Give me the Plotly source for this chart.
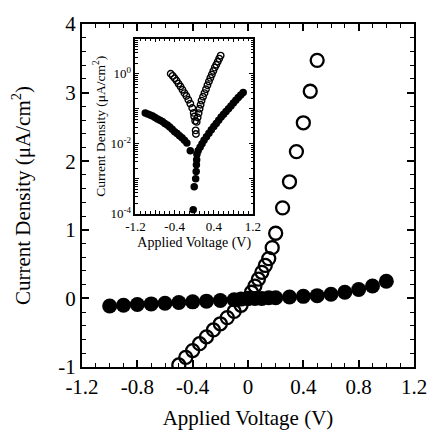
import plotly.graph_objects as go

# ---------------- main plot data (linear) ----------------
main_open_v = [-0.50, -0.45, -0.40, -0.35, -0.30, -0.25, -0.20, -0.15, -0.10, -0.05,
               0.00, 0.025, 0.05, 0.075, 0.10, 0.125, 0.15, 0.175, 0.20,
               0.25, 0.30, 0.35, 0.40, 0.45, 0.50]
main_open_j = [-0.97, -0.86, -0.76, -0.66, -0.56, -0.46, -0.37, -0.28, -0.19, -0.10,
               0.00, 0.09, 0.18, 0.28, 0.38, 0.48, 0.58, 0.74, 0.95,
               1.32, 1.70, 2.14, 2.56, 3.02, 3.47]

main_fill_v = [-1.0, -0.9, -0.8, -0.7, -0.6, -0.5, -0.4, -0.3, -0.2, -0.1,
               -0.05, 0.0, 0.05, 0.1, 0.15, 0.2, 0.3, 0.4, 0.5, 0.6, 0.7, 0.8, 0.9, 1.0]
main_fill_j = [-0.11, -0.10, -0.09, -0.08, -0.07, -0.06, -0.05, -0.04, -0.03, -0.02,
               -0.01, 0.00, 0.00, 0.00, 0.01, 0.01, 0.02, 0.03, 0.04, 0.06, 0.09, 0.13, 0.18, 0.25]

# ---------------- inset data (|J|, log scale) ----------------
inset_open_v = [-0.48, -0.44, -0.40, -0.36, -0.32, -0.28, -0.24, -0.20, -0.16, -0.12,
                -0.08, -0.04, -0.01, 0.00, 0.02, 0.03, 0.035,
                0.05, 0.07, 0.09, 0.11, 0.13, 0.15, 0.18, 0.21, 0.24, 0.27, 0.30,
                0.33, 0.36, 0.39, 0.42, 0.45, 0.48, 0.51, 0.54]
inset_open_j = [1.0, 0.87, 0.74, 0.63, 0.52, 0.43, 0.35, 0.28, 0.23, 0.18,
                0.14, 0.105, 0.076, 0.06, 0.045, 0.024, 0.019,
                0.042, 0.056, 0.075, 0.10, 0.13, 0.17, 0.22, 0.28, 0.36, 0.47, 0.60,
                0.76, 0.95, 1.2, 1.5, 1.8, 2.2, 2.7, 3.3]

inset_fill_v = [-1.00, -0.95, -0.90, -0.85, -0.80, -0.75, -0.70, -0.65, -0.60, -0.55,
                -0.50, -0.45, -0.40, -0.35, -0.30, -0.25, -0.20, -0.15, -0.08,
                -0.02, 0.00, 0.03, 0.04, 0.045, 0.05, 0.055,
                0.08, 0.12, 0.16, 0.20, 0.25, 0.30, 0.35, 0.40, 0.45, 0.50, 0.55,
                0.60, 0.65, 0.70, 0.75, 0.80, 0.85, 0.90, 0.95, 1.00]
inset_fill_j = [0.076, 0.071, 0.066, 0.062, 0.056, 0.051, 0.047, 0.043, 0.038, 0.034,
                0.030, 0.026, 0.022, 0.0195, 0.017, 0.0148, 0.0126, 0.0105, 0.0063,
                0.00013, 0.00059, 0.0010, 0.0016, 0.0025, 0.0035, 0.005,
                0.0063, 0.0079, 0.010, 0.0126, 0.0158, 0.020, 0.025, 0.031, 0.038, 0.047, 0.058,
                0.069, 0.083, 0.10, 0.12, 0.145, 0.174, 0.21, 0.245, 0.29]

# ---------------- tick labels ----------------
main_x_ticks = [-1.2, -0.8, -0.4, 0, 0.4, 0.8, 1.2]
main_x_text = ["-1.2", "-0.8", "-0.4", "0", "0.4", "0.8", "1.2"]
main_y_ticks = [-1, 0, 1, 2, 3, 4]
main_y_text = ["-1", "0", "1", "2", "3", "4"]
inset_x_ticks = [-1.2, -0.8, -0.4, 0, 0.4, 0.8, 1.2]
inset_x_text = ["-1.2", "", "-0.4", "", "0.4", "", "1.2"]
inset_y_ticks = [1e-4, 1e-3, 1e-2, 1e-1, 1, 10]
inset_y_text = ["10<sup>-4</sup>", "", "10<sup>-2</sup>", "", "10<sup>0</sup>", ""]

FONT = "Liberation Serif"

fig = go.Figure()
fig.add_trace(go.Scatter(x=main_fill_v, y=main_fill_j, mode="markers",
                         marker=dict(symbol="circle", size=15, color="black"),
                         xaxis="x", yaxis="y", showlegend=False))
fig.add_trace(go.Scatter(x=main_open_v, y=main_open_j, mode="markers",
                         marker=dict(symbol="circle-open", size=13, color="black",
                                     line=dict(width=2.3, color="black")),
                         xaxis="x", yaxis="y", showlegend=False))
fig.add_trace(go.Scatter(x=inset_fill_v, y=inset_fill_j, mode="markers",
                         marker=dict(symbol="circle", size=7.5, color="black"),
                         xaxis="x2", yaxis="y2", showlegend=False))
fig.add_trace(go.Scatter(x=inset_open_v, y=inset_open_j, mode="markers",
                         marker=dict(symbol="circle-open", size=6.5, color="black",
                                     line=dict(width=1.4, color="black")),
                         xaxis="x2", yaxis="y2", showlegend=False))

axis_common = dict(showline=True, linecolor="black", mirror="allticks",
                   ticks="inside", tickcolor="black", showgrid=False, zeroline=False)

fig.update_layout(
    width=439, height=442,
    margin=dict(l=82, r=15, t=16, b=75),
    paper_bgcolor="white", plot_bgcolor="white",
    font=dict(family=FONT, color="black", size=21),
    xaxis=dict(**axis_common, range=[-1.2, 1.2], linewidth=2, ticklen=7, tickwidth=1.6,
               tickmode="array", tickvals=main_x_ticks, ticktext=main_x_text,
               tickfont=dict(size=21, family=FONT),
               minor=dict(dtick=0.1, tick0=0, ticks="inside", ticklen=4, tickwidth=1.3, tickcolor="black"),
               title=dict(text="Applied Voltage (V)", font=dict(size=21, family=FONT), standoff=12)),
    yaxis=dict(**axis_common, range=[-1, 4], linewidth=2, ticklen=7, tickwidth=1.6,
               tickmode="array", tickvals=main_y_ticks, ticktext=main_y_text,
               tickfont=dict(size=21, family=FONT),
               minor=dict(dtick=0.2, tick0=0, ticks="inside", ticklen=4, tickwidth=1.3, tickcolor="black"),
               title=dict(text="Current Density (μA/cm<sup>2</sup>)", font=dict(size=21, family=FONT), standoff=22)),
    xaxis2=dict(**axis_common, domain=[0.161, 0.515], anchor="y2", range=[-1.2, 1.2],
                linewidth=1.5, ticklen=4, tickwidth=1,
                tickmode="array", tickvals=inset_x_ticks, ticktext=inset_x_text,
                tickfont=dict(size=13, family=FONT),
                minor=dict(dtick=0.1, tick0=0, ticks="inside", ticklen=2.5, tickwidth=0.8, tickcolor="black"),
                title=dict(text="Applied Voltage (V)", font=dict(size=14, family=FONT), standoff=4)),
    yaxis2=dict(**axis_common, domain=[0.447, 0.957], anchor="x2", type="log", range=[-4, 1],
                linewidth=1.5, ticklen=4, tickwidth=1,
                tickmode="array", tickvals=inset_y_ticks, ticktext=inset_y_text,
                tickfont=dict(size=13, family=FONT),
                minor=dict(dtick="D1", ticks="inside", ticklen=2.5, tickwidth=0.8, tickcolor="black"),
                title=dict(text="Current Density (μA/cm<sup>2</sup>)", font=dict(size=13.5, family=FONT), standoff=2)),
)

fig.write_html("out.html")
